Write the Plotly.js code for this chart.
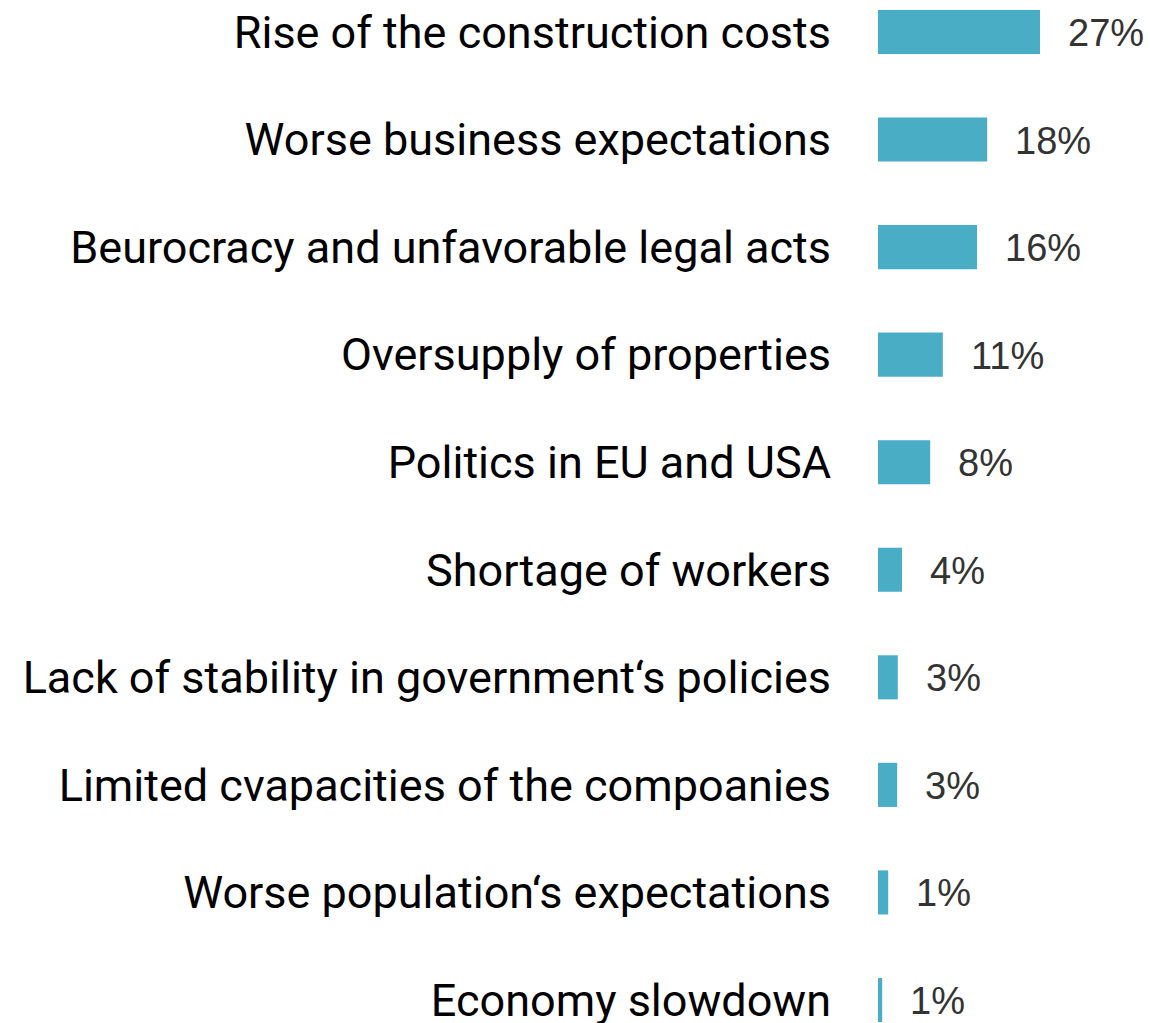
<!DOCTYPE html>
<html>
<head>
<meta charset="utf-8">
<script src="https://cdn.plot.ly/plotly-3.0.1.min.js"></script>
<style>
  html, body { margin: 0; padding: 0; background: #fff; }
  #graph { width: 1150px; height: 1023px; }
</style>
</head>
<body>
<div id="graph"></div>
<script>
// Risk factors, top to bottom
const factors = [
  "Rise of the construction costs",
  "Worse business expectations",
  "Beurocracy and unfavorable legal acts",
  "Oversupply of properties",
  "Politics in EU and USA",
  "Shortage of workers",
  "Lack of stability in government\u2018s policies",
  "Limited cvapacities of the compoanies",
  "Worse population\u2018s expectations",
  "Economy slowdown"
];

// bar lengths (share of answers, %)
const shares = [27, 18.2, 16.5, 10.8, 8.7, 4, 3.3, 3.2, 1.7, 0.7];

// printed labels
const shareLabels = ["27%", "18%", "16%", "11%", "8%", "4%", "3%", "3%", "1%", "1%"];

const barColor = "#4AADC6";

const bars = {
  type: 'bar',
  orientation: 'h',
  x: shares,
  y: factors,
  marker: { color: barColor },
  hoverinfo: 'skip',
  showlegend: false
};

const valueNotes = factors.map((f, i) => ({
  x: shares[i],
  y: f,
  xref: 'x',
  yref: 'y',
  text: shareLabels[i],
  showarrow: false,
  xanchor: 'left',
  xshift: 26,
  yshift: -1,
  font: { family: 'Liberation Sans', size: 38, color: '#333333' }
}));

const layout = {
  width: 1150,
  height: 1023,
  margin: { l: 878, r: 0, t: 0, b: 0, pad: 0 },
  paper_bgcolor: '#ffffff',
  plot_bgcolor: '#ffffff',
  bargap: 0.59,
  xaxis: {
    range: [0, 45.33],
    visible: false,
    fixedrange: true
  },
  yaxis: {
    type: 'category',
    range: [9.214, -0.2975],
    showgrid: false,
    zeroline: false,
    showline: false,
    ticks: '',
    ticklabelstandoff: 46,
    tickfont: { family: 'Roboto', size: 45, color: '#000000' }
  },
  annotations: valueNotes,
  font: { family: 'Roboto', color: '#000000' }
};

Plotly.newPlot('graph', [bars], layout, { displayModeBar: false, staticPlot: true });
</script>
</body>
</html>
